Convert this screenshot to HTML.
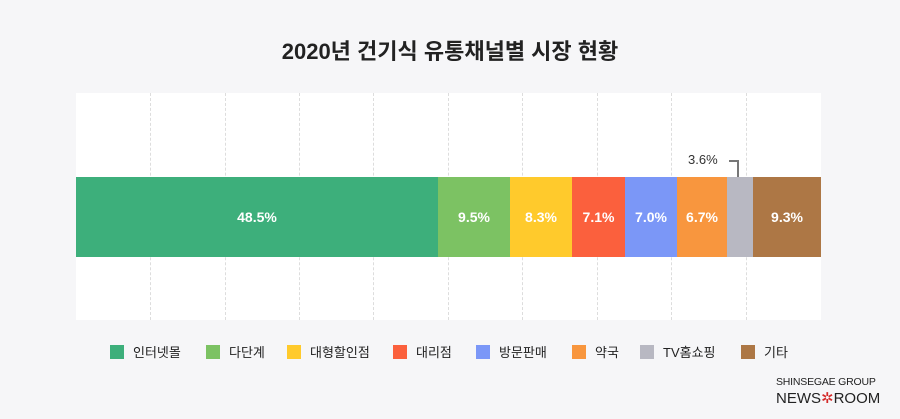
<!DOCTYPE html>
<html><head><meta charset="utf-8"><style>
body{margin:0;width:900px;height:419px;background:#f6f6f8;font-family:"Liberation Sans","Noto Sans CJK KR",sans-serif;position:relative;overflow:hidden}
.t{position:absolute;top:34px;left:0;width:900px;text-align:center;font-size:22px;font-weight:bold;color:#222}
.plot{position:absolute;left:76px;top:93px;width:745px;height:227px;background:#fff}
.g{position:absolute;top:0;height:227px;border-left:1px dashed #ddd}
.s{position:absolute;top:84px;height:80px;color:#fff;font-size:14px;font-weight:bold;display:flex;align-items:center;justify-content:center}
.lg{position:absolute;top:342px;font-size:13px;color:#222;display:flex;align-items:center}
.lg i{display:inline-block;width:14px;height:14px;margin-right:9px}
</style></head><body>
<div class="t">2020년 건기식 유통채널별 시장 현황</div>
<div class="plot">
<div class="g" style="left:74px"></div><div class="g" style="left:149px"></div><div class="g" style="left:223px"></div><div class="g" style="left:297px"></div><div class="g" style="left:372px"></div><div class="g" style="left:446px"></div><div class="g" style="left:521px"></div><div class="g" style="left:595px"></div><div class="g" style="left:670px"></div>
<div class="s" style="left:0;width:362px;background:#3daf7b">48.5%</div>
<div class="s" style="left:362px;width:72px;background:#7cc263">9.5%</div>
<div class="s" style="left:434px;width:62px;background:#ffca2c">8.3%</div>
<div class="s" style="left:496px;width:53px;background:#fb603d">7.1%</div>
<div class="s" style="left:549px;width:52px;background:#7b97f7">7.0%</div>
<div class="s" style="left:601px;width:50px;background:#f8963e">6.7%</div>
<div class="s" style="left:651px;width:26px;background:#b8b8c2"></div>
<div class="s" style="left:677px;width:68px;background:#ad7745">9.3%</div>
<div style="position:absolute;left:653px;top:67px;width:10px;height:17px;border-top:2px solid #777;border-right:2px solid #777;box-sizing:border-box"></div>
<div style="position:absolute;left:612px;top:59px;font-size:13px;color:#333">3.6%</div>
</div>
<div class="lg" style="left:110px"><i style="background:#3daf7b"></i>인터넷몰</div>
<div class="lg" style="left:206px"><i style="background:#7cc263"></i>다단계</div>
<div class="lg" style="left:287px"><i style="background:#ffca2c"></i>대형할인점</div>
<div class="lg" style="left:393px"><i style="background:#fb603d"></i>대리점</div>
<div class="lg" style="left:476px"><i style="background:#7b97f7"></i>방문판매</div>
<div class="lg" style="left:572px"><i style="background:#f8963e"></i>약국</div>
<div class="lg" style="left:640px"><i style="background:#b8b8c2"></i>TV홈쇼핑</div>
<div class="lg" style="left:741px"><i style="background:#ad7745"></i>기타</div>
<div style="position:absolute;left:776px;top:376px;font-size:10.5px;color:#222;letter-spacing:-0.2px">SHINSEGAE GROUP</div>
<div style="position:absolute;left:776px;top:389px;font-size:15px;color:#222">NEWS<span style="color:#d42a2a">✲</span>ROOM</div>
</body></html>
